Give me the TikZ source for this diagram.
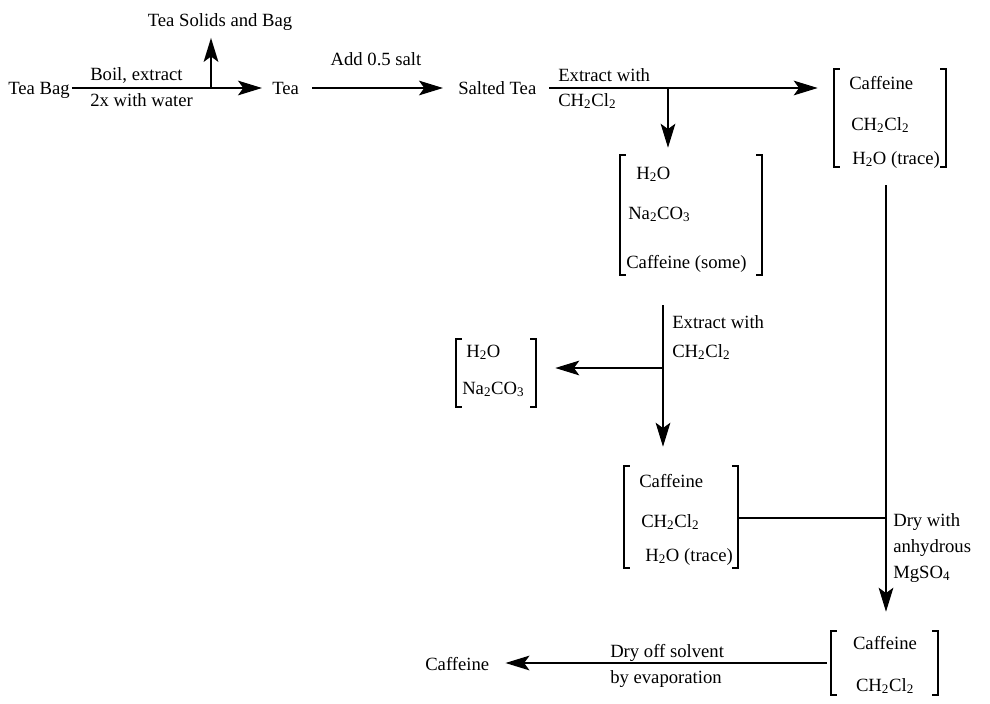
\documentclass[tikz,border=0pt]{standalone}
\usepackage{fontspec}
\setmainfont{Liberation Serif}
\usepackage{tikz}
\usetikzlibrary{arrows.meta,fit}

\tikzset{
  txt/.style={inner sep=0pt,anchor=west,text height=0.9em,text depth=0em},
  phase/.style={inner sep=0pt},
  brk/.style={line width=1.2pt},
  link/.style={line width=1.4pt},
  arr/.style={link,-{Stealth[length=18pt,width=11pt,inset=4pt]}}
}
\newcommand{\brackets}[1]{%
  \draw[brk] ([xshift=4.5pt]#1.north west) -- (#1.north west) -- (#1.south west) -- ([xshift=4.5pt]#1.south west);
  \draw[brk] ([xshift=-4.5pt]#1.north east) -- (#1.north east) -- (#1.south east) -- ([xshift=-4.5pt]#1.south east);}

\begin{document}
\begin{tikzpicture}[x=0.75pt,y=-0.75pt,font=\fontsize{14pt}{16pt}\selectfont]
\useasboundingbox (0,0) rectangle (990,704);
% top row
\node[txt] (teabag) at (8,88) {Tea Bag};
\node[txt] (tea) at (272,88) {Tea};
\node[txt] (salted) at (458,88) {Salted Tea};
\node[txt,anchor=center] (solids) at (220,20) {Tea Solids and Bag};
\node[txt] (boil) at (90,74) {Boil, extract};
\node[txt] (water) at (90,100) {2x with water};
\node[txt,anchor=center] (salt) at (376,59) {Add 0.5 salt};
\node[txt] (ext1) at (558,75) {Extract with};
\node[txt] (sol1) at (558,100) {CH\textsubscript{2}Cl\textsubscript{2}};
% phases
\node[phase,fit={(834,69) (946,167)}] (box1) {};
\node[txt] (b1a) at (849,83) {Caffeine};
\node[txt] (b1b) at (851,124) {CH\textsubscript{2}Cl\textsubscript{2}};
\node[txt] (b1c) at (852,158) {H\textsubscript{2}O (trace)};
\brackets{box1}
\node[phase,fit={(620,155) (762,275)}] (box2) {};
\node[txt] (b2a) at (636,173) {H\textsubscript{2}O};
\node[txt] (b2b) at (628,213) {Na\textsubscript{2}CO\textsubscript{3}};
\node[txt] (b2c) at (626,262) {Caffeine (some)};
\brackets{box2}
\node[phase,fit={(456,339) (536,407)}] (box3) {};
\node[txt] (b3a) at (466,351) {H\textsubscript{2}O};
\node[txt] (b3b) at (462,388) {Na\textsubscript{2}CO\textsubscript{3}};
\brackets{box3}
\node[phase,fit={(624,466) (738,568)}] (box4) {};
\node[txt] (b4a) at (639,481) {Caffeine};
\node[txt] (b4b) at (641,521) {CH\textsubscript{2}Cl\textsubscript{2}};
\node[txt] (b4c) at (645,555) {H\textsubscript{2}O (trace)};
\brackets{box4}
\node[phase,fit={(831,631) (938,695)}] (box5) {};
\node[txt,anchor=center] (b5a) at (885,643) {Caffeine};
\node[txt,anchor=center] (b5b) at (885,685) {CH\textsubscript{2}Cl\textsubscript{2}};
\brackets{box5}
% labels lower part
\node[txt] (ext2) at (672,322) {Extract with};
\node[txt] (sol2) at (672,351) {CH\textsubscript{2}Cl\textsubscript{2}};
\node[txt] (dry1) at (893,520) {Dry with};
\node[txt] (dry2) at (893,546) {anhydrous};
\node[txt] (dry3) at (893,572) {MgSO\textsubscript{4}};
\node[txt] (evap1) at (610,651) {Dry off solvent};
\node[txt] (evap2) at (610,677) {by evaporation};
\node[txt] (caff) at (425,664) {Caffeine};
% connectors
\coordinate (j1) at (211,88);
\coordinate (j2) at (668,88);
\coordinate (j4) at (663,368);
\coordinate (j5) at (886,518);
\draw[arr,shorten <=1.5pt,shorten >=7.5pt] (teabag.east |- j1) -- (tea.west |- j1);
\draw[arr,shorten >=8.7pt] (j1) -- (j1 |- solids.south);
\draw[arr,shorten <=9.75pt,shorten >=11.25pt] (tea.east |- j1) -- (salted.west |- j1);
\draw[arr,shorten <=9.4pt,shorten >=12pt] (salted.east |- j2) -- (box1.west |- j2);
\draw[arr,shorten >=5.25pt] (j2) -- (j2 |- box2.north);
\draw[arr,shorten <=22.5pt,shorten >=14.25pt] (j4 |- box2.south) -- (j4 |- box4.north);
\draw[arr,shorten >=14.25pt] (j4) -- (j4 -| box3.east);
\draw[arr,shorten <=13.5pt,shorten >=14.25pt] (j5 |- box1.south) -- (j5 |- box5.north);
\draw[link] (box4.east |- j5) -- (j5);
\draw[arr,shorten <=3pt,shorten >=12pt] (box5.west) -- (caff.east |- box5.west);
\end{tikzpicture}
\end{document}
